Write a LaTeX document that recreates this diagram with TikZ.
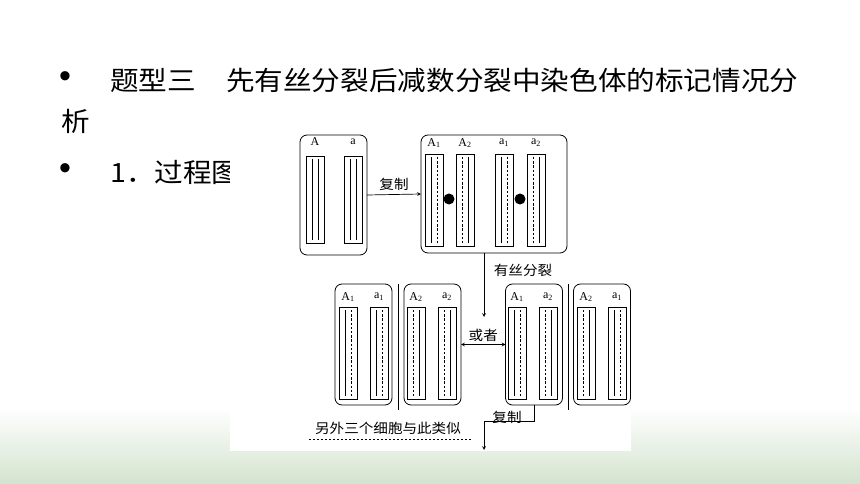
\documentclass[tikz,border=0pt]{standalone}
\usepackage{fontspec}
\usepackage{tikz}
\newfontfamily\cjk[FakeStretch=1.08]{Noto Sans CJK SC}
\newfontfamily\tnr{Liberation Serif}
\newfontfamily\arial{Liberation Sans}
\definecolor{slidegreen}{RGB}{211,227,206}
\tikzset{
  cellbox/.style={draw,rounded corners=7pt,line width=0.8pt,inner sep=0pt,outer sep=0pt},
  chrom/.style={draw,line width=0.7pt},
  lbl/.style={font=\tnr\fontsize{12}{13}\selectfont,inner sep=0pt},
  cjklbl/.style={font=\cjk\fontsize{13.5}{15}\selectfont,inner sep=0pt},
  titletext/.style={font=\cjk\fontsize{26.5}{30}\selectfont,inner sep=0pt,anchor=west},
  bullet/.style={font=\arial\fontsize{34}{34}\selectfont,inner sep=0pt},
  solidline/.style={line width=0.7pt},
  dashline/.style={line width=0.7pt,dash pattern=on 2.4pt off 1.8pt},
}
% chromosome: x, top, bottom, left strand, right strand
\newcommand{\chromosome}[5]{%
  \draw[chrom] (#1,#2) rectangle (#1+18,#3);
  \draw[#4] (#1+6,#2+3) -- (#1+6,#3-3);
  \draw[#5] (#1+12,#2+3) -- (#1+12,#3-3);
}
\begin{document}
\begin{tikzpicture}[x=1pt,y=-1pt,>=stealth]
	\useasboundingbox (0,0) rectangle (860,484);
	% background
	\fill[white] (0,0) rectangle (860,484);
	\shade[top color=white,bottom color=slidegreen] (0,408) rectangle (860,484);
	% title
	\node[bullet] (b1) at (65,80) {•};
	\node[titletext] (t1) at (110,80) {题型三\hspace{30pt}先有丝分裂后减数分裂中染色体的标记情况分};
	\node[titletext] (t2) at (61,121) {析};
	\node[bullet] (b2) at (65,172) {•};
	\node[titletext] (t3) at (110,172) {1．过程图};
	% diagram
	\fill[white] (230,128) rectangle (631,451);
	\node[cellbox,minimum width=67pt,minimum height=120pt] (c0) at (333.5,195) {};
	\node[cellbox,minimum width=146pt,minimum height=118pt] (c1) at (494,194) {};
	\foreach \x/\name in {363.5/c2,432.5/c3,534/c4,602/c5}
	\node[cellbox,minimum width=57pt,minimum height=121pt] (\name) at (\x,344.5) {};
	% chromosomes
	\foreach \x in {306,344} {\chromosome{\x}{156}{243}{solidline}{solidline}}
	\foreach \x/\ls/\rs in {425/solidline/dashline,456/dashline/solidline,495/solidline/dashline,527/dashline/solidline}
	{\chromosome{\x}{154}{246}{\ls}{\rs}}
	\foreach \x/\ls/\rs in {339/solidline/dashline,370/solidline/dashline,407/dashline/solidline,438/dashline/solidline,
		508/solidline/dashline,539/dashline/solidline,577/dashline/solidline,608/solidline/dashline}
	{\chromosome{\x}{307}{399}{\ls}{\rs}}
	\node[circle,fill,minimum size=11pt,inner sep=0pt] (cen1) at (449,199) {};
	\node[circle,fill,minimum size=11pt,inner sep=0pt] (cen2) at (520,199) {};
	% labels
	\foreach \x/\t [count=\i] in {315/A,353/a}
	\node[lbl] (la\i) at (\x,142) {\t};
	\foreach \x/\t [count=\i] in {434/{A\textsubscript{1}},465/{A\textsubscript{2}},504/{a\textsubscript{1}},536/{a\textsubscript{2}}}
	\node[lbl] (lb\i) at (\x,143) {\t};
	\foreach \x/\t [count=\i] in {348/{A\textsubscript{1}},379/{a\textsubscript{1}},416/{A\textsubscript{2}},447/{a\textsubscript{2}},
		517/{A\textsubscript{1}},548/{a\textsubscript{2}},586/{A\textsubscript{2}},617/{a\textsubscript{1}}}
	\node[lbl] (lc\i) at (\x,297) {\t};
	% dividers
	\draw[line width=0.7pt] (398,284) -- (398,410);
	\draw[line width=0.7pt] (568,284) -- (568,410);
	% connectors
	\draw[->,line width=0.7pt] (c0.east) -- node[cjklbl,above=4pt] (copy1) {复制} (c1.west);
	\coordinate (split) at (484,317);
	\draw[->,line width=0.7pt] (split |- c1.south) -- (split);
	\node[cjklbl] (mitosis) at (523,270) {有丝分裂};
	\draw[<->,line width=0.7pt] (c3.east) -- node[cjklbl,above=3pt] (either) {或者} (c4.west);
	\coordinate (down) at (484,450);
	\draw[->,line width=0.7pt] (c4.south) -- ++(0,16) -| (down);
	\node[cjklbl] (copy2) at (507,417) {复制};
	\node[cjklbl] (others) at (388,428) {另外三个细胞与此类似};
	\draw[line width=0.7pt,dash pattern=on 2pt off 2pt] (309,439) -- (471,439);
\end{tikzpicture}
\end{document}
